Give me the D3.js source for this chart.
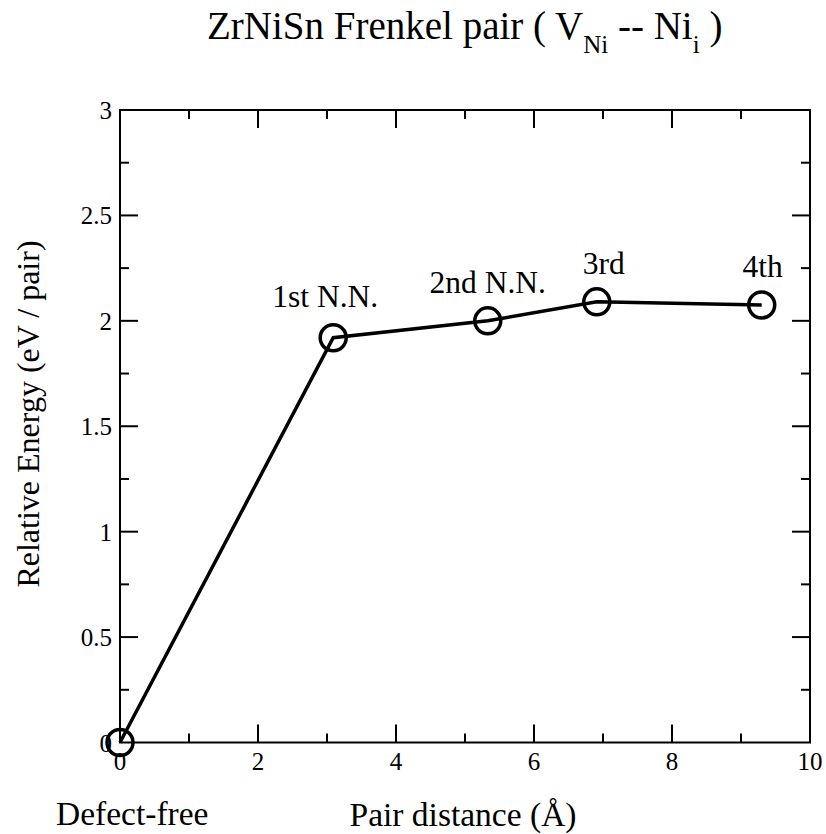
<!DOCTYPE html>
<html>
<head>
<meta charset="utf-8">
<script src="https://cdn.jsdelivr.net/npm/d3@7"></script>
<style>
  body { margin: 0; background: #fff; }
</style>
</head>
<body>
<script>
// data
var distances = [0, 3.09, 5.33, 6.91, 9.3];
var energies = [0, 1.92, 2.0, 2.09, 2.075];
var pointLabels = ["", "1st N.N.", "2nd N.N.", "3rd", "4th"];
var xMajor = [0, 2, 4, 6, 8, 10];
var xMinor = [1, 3, 5, 7, 9];
var yMajor = [0, 0.5, 1, 1.5, 2, 2.5, 3];
var yMinor = [0.25, 0.75, 1.25, 1.75, 2.25, 2.75];

var width = 826, height = 834;
var pLeft = 120, pRight = 810, pTop = 110, pBottom = 742.5;

var svg = d3.select("body").append("svg")
  .attr("width", width)
  .attr("height", height)
  .attr("font-family", "'Liberation Serif', 'DejaVu Serif', serif");

var x = d3.scaleLinear().domain([0, 10]).range([pLeft, pRight]);
var y = d3.scaleLinear().domain([0, 3]).range([pBottom, pTop]);

// ticks point inward on all four sides
function tickLines(vals, len, horiz) {
  vals.forEach(function(v) {
    if (horiz) {
      svg.append("line").attr("x1", x(v)).attr("x2", x(v)).attr("y1", pBottom).attr("y2", pBottom - len);
      svg.append("line").attr("x1", x(v)).attr("x2", x(v)).attr("y1", pTop).attr("y2", pTop + len);
    } else {
      svg.append("line").attr("x1", pLeft).attr("x2", pLeft + len).attr("y1", y(v)).attr("y2", y(v));
      svg.append("line").attr("x1", pRight).attr("x2", pRight - len).attr("y1", y(v)).attr("y2", y(v));
    }
  });
}
tickLines(xMajor.slice(1, -1), 18, true);
tickLines(xMinor, 9, true);
tickLines(yMajor.slice(1, -1), 18, false);
tickLines(yMinor, 9, false);
svg.selectAll("line").attr("stroke", "#000").attr("stroke-width", 2);

svg.append("rect")
  .attr("x", pLeft).attr("y", pTop)
  .attr("width", pRight - pLeft).attr("height", pBottom - pTop)
  .attr("fill", "none").attr("stroke", "#000").attr("stroke-width", 2);

svg.selectAll(".xl").data(xMajor).enter().append("text")
  .attr("x", function(d) { return x(d); })
  .attr("y", pBottom + 27)
  .attr("text-anchor", "middle")
  .attr("font-size", 25)
  .text(function(d) { return d; });

svg.selectAll(".yl").data(yMajor).enter().append("text")
  .attr("x", pLeft - 8)
  .attr("y", function(d) { return y(d) + 9; })
  .attr("text-anchor", "end")
  .attr("font-size", 25)
  .text(function(d) { return d; });

// line and circles
var line = d3.line()
  .x(function(d, i) { return x(distances[i]); })
  .y(function(d) { return y(d); });

svg.append("path")
  .datum(energies)
  .attr("d", line)
  .attr("fill", "none")
  .attr("stroke", "#000")
  .attr("stroke-width", 3.5);

svg.selectAll(".pt").data(energies).enter().append("circle")
  .attr("cx", function(d, i) { return x(distances[i]); })
  .attr("cy", function(d) { return y(d); })
  .attr("r", 13)
  .attr("fill", "none")
  .attr("stroke", "#000")
  .attr("stroke-width", 3.5);

var labelDx = [0, -8, 0, 7, 1];
svg.selectAll(".pl").data(energies).enter().append("text")
  .attr("x", function(d, i) { return x(distances[i]) + labelDx[i]; })
  .attr("y", function(d, i) { return y(d) - (i == 1 ? 31 : 28); })
  .attr("text-anchor", "middle")
  .attr("font-size", 31.5)
  .text(function(d, i) { return pointLabels[i]; });

// titles
var title = svg.append("text")
  .attr("x", 207).attr("y", 39)
  .attr("font-size", 39);
title.append("tspan").text("ZrNiSn Frenkel pair ( V");
title.append("tspan").attr("dy", 14).attr("font-size", 25).text("Ni");
title.append("tspan").attr("dy", -14).text(" -- Ni");
title.append("tspan").attr("dy", 14).attr("font-size", 25).text("i");
title.append("tspan").attr("dy", -14).text(" )");

svg.append("text")
  .attr("x", 463).attr("y", 826)
  .attr("text-anchor", "middle")
  .attr("font-size", 33.5)
  .text("Pair distance (Å)");

svg.append("text")
  .attr("x", 56).attr("y", 825)
  .attr("font-size", 33.5)
  .text("Defect-free");

svg.append("text")
  .attr("transform", "translate(39,414) rotate(-90)")
  .attr("text-anchor", "middle")
  .attr("font-size", 32)
  .text("Relative Energy (eV / pair)");
</script>
</body>
</html>
